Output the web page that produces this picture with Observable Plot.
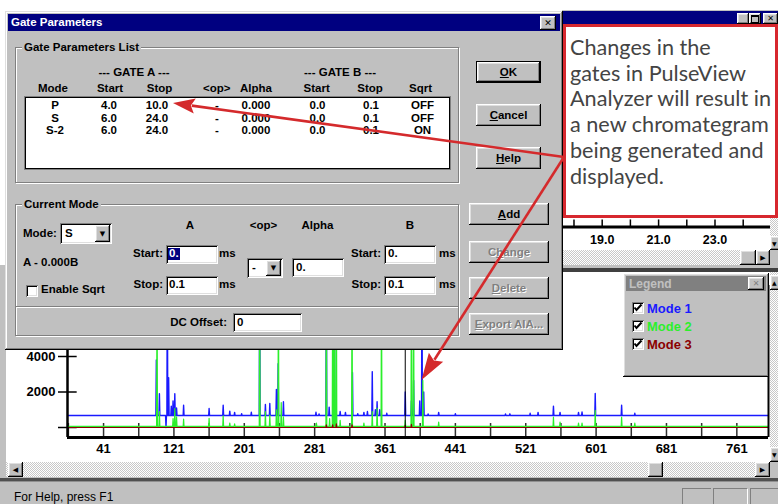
<!DOCTYPE html>
<html>
<head>
<meta charset="utf-8">
<script src="https://cdn.jsdelivr.net/npm/d3@7"></script>
<script src="https://cdn.jsdelivr.net/npm/@observablehq/plot@0.6"></script>
<style>
body{margin:0;background:#fff;}
#page{position:relative;width:778px;height:504px;overflow:hidden;background:#fff;font-family:"Liberation Sans",Arial,sans-serif;}
.abs{position:absolute;box-sizing:border-box;}
.btn{background:#c0c0c0;box-shadow:inset -1px -1px #000,inset 1px 1px #fff,inset -2px -2px #808080,inset 2px 2px #dfdfdf;display:flex;align-items:center;justify-content:center;font:bold 11.5px "Liberation Sans",Arial,sans-serif;color:#000;}
.dis{color:#808080;text-shadow:1px 1px 0 #fff;}
.fld{background:#fff;box-shadow:inset 1px 1px #808080,inset -1px -1px #fff,inset 2px 2px #000,inset -2px -2px #dfdfdf;}
.grp{border:1px solid #808080;box-shadow:1px 1px 0 #fff,inset 1px 1px 0 #fff;}
.chk{background-color:#c0c0c0;background-image:repeating-conic-gradient(#fff 0 25%,#c8c8c8 0 50%);background-size:2px 2px;}
.gl{font-family:"DejaVu Sans",sans-serif;font-weight:bold;}
</style>
</head>
<body>
<div id="page"></div>
<script>
// ---------------- data ----------------
const xTickLabels = [41, 121, 201, 281, 361, 441, 521, 601, 681, 761];
const xTickMarks = [1, 41, 81, 121, 161, 201, 241, 281, 321, 361, 401, 441, 481, 521, 561, 601, 641, 681, 721, 761];
const yTicks = [0, 2000, 4000, 6000];
const seriesNames = ["Mode 1", "Mode 2", "Mode 3"];
const seriesColors = ["#1a1aff", "#2bef2b", "#8b0000"];
const seriesBaselines = [680, 60, 0];
const cursorPosition = [384];
// [retention index, signal] for each visible peak
const mode1Peaks = [[101,3800],[104.5,1900],[112,0],[113.5,9000],[115,2800],[118,1200],[120,1500],[122,1900],[124,1100],[132,1250],[161,1070],[177,1250],[184.5,920],[190,850],[198,780],[209,860],[218.5,9000],[225,1300],[230,1350],[237.5,2150],[239.5,3600],[245.5,1450],[282.5,860],[286,760],[294.3,9000],[297.5,1150],[303.4,9000],[310,900],[316,850],[324,3100],[330,780],[337,850],[341,900],[346.5,3150],[350,1000],[352,1450],[355,1000],[363,800],[384,2000],[391,1500],[393.5,2650],[400.5,1500],[403,9000],[405,2000],[410,760],[422,850],[441,780],[498,760],[503,770],[526,800],[535,850],[552.5,1200],[560,850],[581,850],[585,870],[600,1920],[630,1250],[645,800]];
const mode2Peaks = [[101.8,9000],[104.5,900],[111,0],[120,500],[122,1070],[124,600],[132,480],[161,520],[177,650],[184.5,250],[190,200],[218.5,9000],[225,900],[230,700],[237.5,1000],[239.8,9000],[243,1400],[245.5,600],[283,250],[294.3,9000],[298,500],[301.5,9000],[303.4,9000],[305.7,9000],[310,400],[323.5,9000],[337,250],[346.5,900],[352,1100],[357,9000],[384,400],[391,9000],[393.5,9000],[404,2650],[422,300],[552.5,580],[560,300],[581,250],[585,250],[600,960],[630,580],[645,250]];
const mode3Peaks = [[294.3,150],[301.5,150],[305.7,200],[323.5,150],[384,120],[391,180]];
const upperTicks = [18, 19, 20, 21, 22, 23, 24];
const upperTickLabels = [19, 21, 23];
// gate parameter table
const gateModes = ["P", "S", "S-2"];
const gateAStart = ["4.0", "6.0", "6.0"];
const gateAStop = ["10.0", "24.0", "24.0"];
const gateOps = ["-", "-", "-"];
const gateAlpha = ["0.000", "0.000", "0.000"];
const gateBStart = ["0.0", "0.0", "0.0"];
const gateBStop = ["0.1", "0.1", "0.1"];
const gateSqrt = ["OFF", "OFF", "ON"];
const noteLines = ["Changes in the", "gates in PulseView", "Analyzer will result in", "a new chromategram", "being generated and", "displayed."];

// ---------------- helpers ----------------
const page = document.getElementById("page");
const F = "'Liberation Sans', Arial, sans-serif";
const CHECK = "<svg width='12' height='12' style='position:absolute;left:0;top:0'><polyline points='2.5,5.5 4.5,8 9.5,2.5' fill='none' stroke='#000' stroke-width='2'/></svg>";
function box(l, t, w, h, cls, css, html) {
  const d = document.createElement("div");
  d.className = "abs " + (cls || "");
  d.style.cssText = `left:${l}px;top:${t}px;width:${w}px;height:${h}px;${css || ""}`;
  if (html) d.innerHTML = html;
  page.appendChild(d);
  return d;
}
function T(s, x, base, o = {}) {
  const size = o.size || 11.5;
  const d = document.createElement("div");
  const tr = o.align === "center" ? "transform:translateX(-50%);" : o.align === "right" ? "transform:translateX(-100%);" : "";
  d.style.cssText = `position:absolute;left:${x}px;top:${(base - 0.8465 * size).toFixed(1)}px;font:${o.weight || "bold"} ${size}px ${o.family || F};line-height:${size}px;white-space:nowrap;color:${o.color || "#000"};${tr}${o.css || ""}`;
  d.innerHTML = s;
  page.appendChild(d);
  return d;
}
function spikeRows(peaks, base) {
  const rows = [{x: 0, y: base}];
  for (const [x, h] of peaks) rows.push({x: x - 0.5, y: base}, {x, y: h}, {x: x + 0.5, y: base});
  rows.push({x: 797, y: base});
  return rows.sort((a, b) => a.x - b.x);
}

// ---------------- app background ----------------
box(0, 265, 778, 239, "", "background:#c0c0c0;");
// upper chromatogram child window
box(562, 10, 216, 256, "", "background:#c0c0c0;");
box(562, 11, 216, 13, "", "background:#000080;");
box(737, 13, 12, 11, "btn", "", "<span style='font-size:9px;margin-top:4px'>_</span>");
box(749, 13, 12, 11, "btn", "", "<span style='width:6px;height:5px;border:1px solid #000;border-top-width:2px;display:block'></span>");
box(763, 13, 15, 11, "btn", "", "<span class='gl' style='font-size:8px'>✕</span>");
box(563, 24, 207, 226, "", "background:#fff;");

// upper chart axis (mostly covered by the note)
const upper = Plot.plot({
  width: 207, height: 226, marginLeft: 0, marginRight: 0, marginTop: 0, marginBottom: 23.5,
  x: {domain: [17.628, 24.968], label: null},
  y: {domain: [0, 100], axis: null, label: null},
  style: {fontFamily: F, fontSize: "12.5px", fontWeight: "bold", background: "transparent", color: "#000", overflow: "visible"},
  marks: [
    Plot.ruleX(upperTicks, {y1: 0, y2: 3.5, stroke: "#000", strokeWidth: 1.5}),
    Plot.ruleY([0], {stroke: "#000", strokeWidth: 3}),
    Plot.axisX({ticks: upperTickLabels, tickSize: 0, tickPadding: 8, label: null, tickFormat: d3.format(".1f")})
  ]
});
box(563, 24, 207, 226).appendChild(upper);
box(563, 250, 207, 15, "chk");
box(740, 250, 16, 15, "btn");
box(756, 250, 14, 15, "btn", "", "<span class='gl' style='font-size:7px'>▶</span>");
box(770, 24, 8, 226, "chk");
box(770, 236, 15, 14, "btn", "justify-content:flex-start;padding-left:2px", "<span class='gl' style='font-size:6px'>▼</span>");

// lower chromatogram window
box(562, 268, 216, 4, "", "background:#404040;");
box(6, 272, 764, 190, "", "background:#fff;");
const main = Plot.plot({
  width: 770, height: 194, marginLeft: 67, marginRight: 2, marginTop: 17, marginBottom: 25,
  x: {domain: [0, 797], label: null},
  y: {domain: [-563, 8000], label: null},
  style: {fontFamily: F, fontSize: "13px", fontWeight: "bold", background: "transparent", color: "#000", overflow: "visible"},
  marks: [
    Plot.ruleX(xTickMarks, {y1: -563, y2: 225, stroke: "#303030", strokeWidth: 1.5}),
    Plot.ruleY(yTicks, {x1: 0, x2: 11, stroke: "#000", strokeWidth: 1.5}),
    Plot.line(spikeRows(mode1Peaks, seriesBaselines[0]), {x: "x", y: "y", stroke: seriesColors[0], strokeWidth: 1.4, clip: true}),
    Plot.line(spikeRows(mode2Peaks, seriesBaselines[1]), {x: "x", y: "y", stroke: seriesColors[1], strokeWidth: 1.2, clip: true}),
    Plot.line(spikeRows(mode3Peaks, seriesBaselines[2]), {x: "x", y: "y", stroke: seriesColors[2], strokeWidth: 1.2, clip: true}),
    Plot.ruleX(cursorPosition, {stroke: "#000", strokeWidth: 1}),
    Plot.ruleX([0], {stroke: "#000", strokeWidth: 2.5}),
    Plot.ruleX([797], {stroke: "#000", strokeWidth: 2}),
    Plot.ruleY([-563], {stroke: "#000", strokeWidth: 3}),
    Plot.axisY({ticks: yTicks, tickSize: 9, tickPadding: 3, strokeWidth: 1.5, label: null, tickFormat: d => d === 0 ? "" : String(d)}),
    Plot.axisX({ticks: xTickLabels, tickSize: 0, tickPadding: 6, label: null, tickFormat: d => String(d)})
  ]
});
box(0, 268, 770, 194).appendChild(main);
box(0, 268, 6, 210, "", "background:#c0c0c0;");
// lower scrollbars
box(6, 462, 764, 15, "chk");
box(8, 462, 15, 15, "btn", "", "<span class='gl' style='font-size:7px'>◀</span>");
box(648, 462, 15, 15, "btn");
box(755, 462, 15, 15, "btn", "", "<span class='gl' style='font-size:7px'>▶</span>");
box(770, 272, 8, 190, "chk");
box(770, 275, 15, 15, "btn", "justify-content:flex-start;padding-left:2px", "<span class='gl' style='font-size:6px'>▲</span>");
box(770, 447, 15, 15, "btn", "justify-content:flex-start;padding-left:2px", "<span class='gl' style='font-size:6px'>▼</span>");
box(770, 462, 8, 15, "", "background:#c0c0c0;");
// status bar
box(0, 477, 778, 27, "", "background:#c0c0c0;");
box(0, 478, 778, 3, "", "background:#505050;");
box(0, 481, 778, 1, "", "background:#909090;");
T("For Help, press F1", 14, 501, {weight: "normal", size: 12});
box(682, 488, 29, 16, "", "border-top:1px solid #808080;border-left:1px solid #808080;");
box(713, 488, 35, 16, "", "border-top:1px solid #808080;border-left:1px solid #808080;border-right:1px solid #fff;");
box(750, 488, 28, 16, "", "border-top:1px solid #808080;border-left:1px solid #808080;");

// legend window
box(623, 273, 146, 104, "btn");
box(626, 276, 140, 15, "", "background:#808080;");
T("Legend", 629, 288, {color: "#c0c0c0", size: 12});
box(748, 277, 16, 13, "btn", "", "<span class='gl' style='font-size:8px;color:#808080'>✕</span>");
seriesNames.forEach((name, i) => {
  box(632, 302 + i * 18, 12, 12, "fld", "", CHECK);
  T(name, 647, 313.3 + i * 17.7, {color: seriesColors[i], size: 13});
});

// ---------------- Gate Parameters dialog ----------------
box(5, 11, 558, 339, "", "background:#c0c0c0;box-shadow:inset -1px -1px #000,inset 1px 1px #dfdfdf,inset -2px -2px #808080,inset 2px 2px #fff;");
box(8, 14, 552, 17, "", "background:#000080;");
T("Gate Parameters", 11, 27, {color: "#fff"});
box(540, 16, 16, 14, "btn", "", "<span class='gl' style='font-size:9px'>✕</span>");

box(15, 47, 444, 136, "grp");
T("Gate Parameters List", 22, 52, {css: "background:#c0c0c0;padding:0 2px;"});
T("--- GATE A ---", 134, 77, {align: "center"});
T("--- GATE B ---", 340, 77, {align: "center"});
const headCols = [["Mode", 53], ["Start", 110], ["Stop", 159.5], ["&lt;op&gt;", 216.7], ["Alpha", 256], ["Start", 316.7], ["Stop", 370], ["Sqrt", 420.5]];
headCols.forEach(([s, x]) => T(s, x, 93, {align: "center"}));
box(25, 97, 425, 72, "", "background:#fff;border:1px solid #000;box-shadow:0 0 0 1px #808080;");
const listCols = [55, 109, 157, 217, 256, 317.5, 371, 422.5];
const gateTable = [gateModes, gateAStart, gateAStop, gateOps, gateAlpha, gateBStart, gateBStop, gateSqrt];
gateModes.forEach((_, r) => {
  gateTable.forEach((col, c) => T(col[r], listCols[c], 110 + r * 12.2, {align: "center"}));
});

const buttons = [
  ["<u>O</u>K", 476, 61, 65, 22, false, true],
  ["<u>C</u>ancel", 476, 104, 65, 22],
  ["<u>H</u>elp", 476, 147, 65, 22],
  ["<u>A</u>dd", 469, 203, 80, 22],
  ["C<u>h</u>ange", 469, 241, 80, 22, true],
  ["<u>D</u>elete", 469, 277, 80, 22, true],
  ["<u>E</u>xport AIA...", 469, 313, 80, 22, true]
];
buttons.forEach(([s, x, y, w, h, dis, def]) => {
  box(x, y, w, h, "btn" + (dis ? " dis" : ""), def ? "border:1px solid #000;" : "", s);
});

box(15, 204, 444, 132, "grp");
T("Current Mode", 22, 208.5, {css: "background:#c0c0c0;padding:0 2px;"});
box(16, 306, 442, 2, "", "border-top:1px solid #808080;border-bottom:1px solid #fff;");
T("Mode:", 23, 238);
box(60, 223, 52, 21, "fld");
T("S", 65, 238);
box(95, 225, 15, 17, "btn", "", "<span class='gl' style='font-size:7px'>▼</span>");
T("A - 0.000B", 23, 267);
box(26, 285, 12, 12, "fld");
T("Enable Sqrt", 41, 294);
T("A", 190, 229.5, {align: "center"});
T("&lt;op&gt;", 263.5, 229.5, {align: "center"});
T("Alpha", 317.5, 229.5, {align: "center"});
T("B", 410, 229.5, {align: "center"});
T("Start:", 163, 258, {align: "right"});
box(166, 245, 52, 19, "fld");
T("0.", 168, 258, {color: "#fff", css: "background:#000080;padding:0 1px;"});
T("ms", 219, 258);
T("Stop:", 163, 289, {align: "right"});
box(166, 276, 52, 19, "fld");
T("0.1", 169, 289);
T("ms", 219, 289);
box(247, 258, 36, 20, "fld");
T("-", 252, 272);
box(266, 260, 15, 16, "btn", "", "<span class='gl' style='font-size:7px'>▼</span>");
box(292, 258, 52, 19, "fld");
T("0.", 296, 272);
T("Start:", 381, 258, {align: "right"});
box(384, 245, 52, 19, "fld");
T("0.", 388, 258);
T("ms", 439, 258);
T("Stop:", 381, 289, {align: "right"});
box(384, 276, 52, 19, "fld");
T("0.1", 388, 289);
T("ms", 439, 289);
T("DC Offset:", 227, 327, {align: "right"});
box(233, 313, 69, 19, "fld");
T("0", 237, 327);

// ---------------- annotation note ----------------
box(563, 24, 215, 194, "", "background:#fff;border:3px solid #d7282f;");
const ctx = document.createElement("canvas").getContext("2d");
ctx.font = "100px Lato";
const noteSize = 100 * 202 / ctx.measureText("Analyzer will result in").width;
noteLines.forEach((s, i) => T(s, 570, 55 + i * 25.8, {weight: "normal", size: noteSize, family: "Lato, sans-serif", color: "#444"}));

// arrows
const ns = "http://www.w3.org/2000/svg";
const ov = document.createElementNS(ns, "svg");
ov.setAttribute("width", 778); ov.setAttribute("height", 504);
ov.style.cssText = "position:absolute;left:0;top:0;pointer-events:none;";
page.appendChild(ov);
function arrow(x0, y0, x1, y1, len, half) {
  const dx = x1 - x0, dy = y1 - y0, L = Math.hypot(dx, dy), ux = dx / L, uy = dy / L;
  const bx = x1 - ux * len, by = y1 - uy * len;
  const ln = document.createElementNS(ns, "line");
  ln.setAttribute("x1", x0); ln.setAttribute("y1", y0); ln.setAttribute("x2", bx + ux * 3); ln.setAttribute("y2", by + uy * 3);
  ln.setAttribute("stroke", "#d42a2c"); ln.setAttribute("stroke-width", 2.6);
  ov.appendChild(ln);
  const p = document.createElementNS(ns, "polygon");
  p.setAttribute("points", `${x1},${y1} ${bx - uy * half},${by + ux * half} ${bx + ux * 4},${by + uy * 4} ${bx + uy * half},${by - ux * half}`);
  p.setAttribute("fill", "#d42a2c");
  ov.appendChild(p);
}
arrow(564, 157, 173, 103, 22, 7.5);
arrow(564, 157, 421.5, 380, 27, 8.5);
</script>
</body>
</html>
